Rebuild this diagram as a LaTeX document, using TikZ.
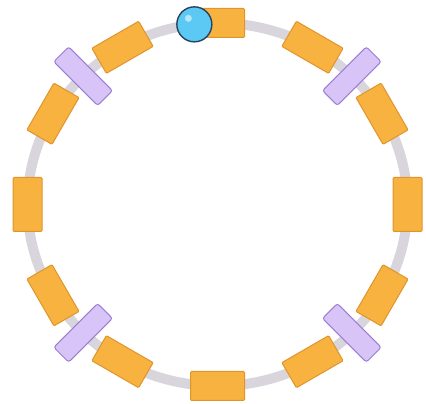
\documentclass[tikz,border=0pt]{standalone}
\usetikzlibrary{calc}

\definecolor{ringgray}{HTML}{D8D6DC}
\definecolor{boxorange}{HTML}{F8B23F}
\definecolor{boxorangedk}{HTML}{E0952C}
\definecolor{boxpurple}{HTML}{D9C4F7}
\definecolor{boxpurpledk}{HTML}{9A7ED6}
\definecolor{ballblue}{HTML}{5CC9F4}
\definecolor{ballline}{HTML}{27435E}

\begin{document}
\begin{tikzpicture}[
  x=1pt, y=1pt,
  ring/.style={draw=ringgray, line width=10pt},
  seatbox/.style={rectangle, rounded corners=1pt, draw=boxorangedk, fill=boxorange,
    line width=1pt, minimum width=54pt, minimum height=29pt, inner sep=0pt},
  railbox/.style={rectangle, rounded corners=2.5pt, draw=boxpurpledk, fill=boxpurple,
    line width=1pt, minimum width=62pt, minimum height=21pt, inner sep=0pt},
  ball/.style={circle, draw=ballline, fill=ballblue, line width=1.4pt,
    minimum size=35pt, inner sep=0pt}
]
\useasboundingbox (0,0) rectangle (426,404);

% ===== RING =====
\coordinate (c) at (217.5,199.5);
\draw[ring] (c) ellipse [x radius=190, y radius=181.5];

% ===== ORANGE BOXES (every 30 degrees) =====
\node[seatbox, rotate=-90]  (o0)   at ($(c)+(0:190 and 181.5)$)   {};
\node[seatbox, rotate=-60]  (o30)  at ($(c)+(30:190 and 181.5)$)  {};
\node[seatbox, rotate=-30]  (o60)  at ($(c)+(60:190 and 181.5)$)  {};
\node[seatbox, rotate=0]    (o90)  at ($(c)+(90:190 and 181.5)$)  {};
\node[seatbox, rotate=30]   (o120) at ($(c)+(120:190 and 181.5)$) {};
\node[seatbox, rotate=60]   (o150) at ($(c)+(150:190 and 181.5)$) {};
\node[seatbox, rotate=90]   (o180) at ($(c)+(180:190 and 181.5)$) {};
\node[seatbox, rotate=120]  (o210) at ($(c)+(210:190 and 181.5)$) {};
\node[seatbox, rotate=150]  (o240) at ($(c)+(240:190 and 181.5)$) {};
\node[seatbox, rotate=180]  (o270) at ($(c)+(270:190 and 181.5)$) {};
\node[seatbox, rotate=210]  (o300) at ($(c)+(300:190 and 181.5)$) {};
\node[seatbox, rotate=240]  (o330) at ($(c)+(330:190 and 181.5)$) {};

% ===== PURPLE BOXES (diagonals) =====
\node[railbox, rotate=45]   (p45)  at ($(c)+(45:190 and 181.5)$)  {};
\node[railbox, rotate=135]  (p135) at ($(c)+(135:190 and 181.5)$) {};
\node[railbox, rotate=225]  (p225) at ($(c)+(225:190 and 181.5)$) {};
\node[railbox, rotate=315]  (p315) at ($(c)+(315:190 and 181.5)$) {};

% ===== BALL =====
\node[ball] (b) at ($(c)+(97:190 and 181.5)$) {};
\fill[white, opacity=0.55] ($(b.center)+(-6,6)$) circle (3.5);
\end{tikzpicture}
\end{document}
